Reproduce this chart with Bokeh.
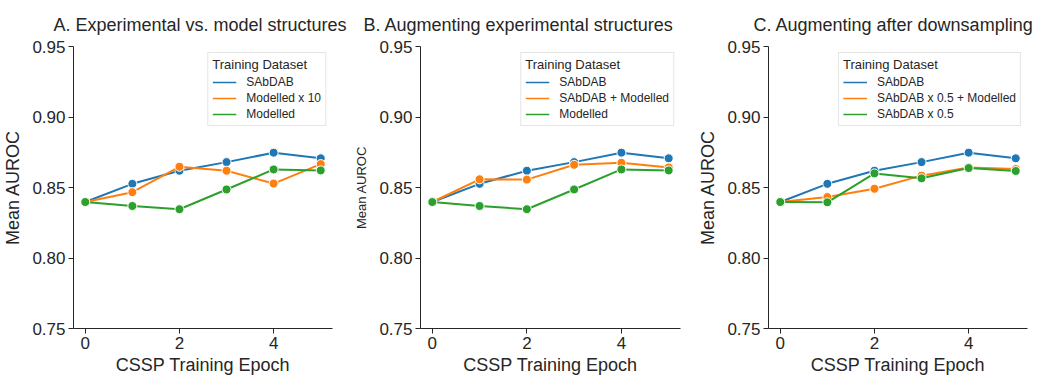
from bokeh.plotting import figure
from bokeh.layouts import row
from bokeh.models import Legend, LegendItem, FixedTicker, NumeralTickFormatter, Range1d
from bokeh.embed import file_html
from bokeh.resources import INLINE

# ---- data ----
epochs = [0, 1, 2, 3, 4, 5]
sabdab = [0.8397, 0.8526, 0.8619, 0.8680, 0.8747, 0.8707]
modelled = [0.8397, 0.8369, 0.8346, 0.8486, 0.8628, 0.8621]
modelled_x10 = [0.8397, 0.8467, 0.8647, 0.8619, 0.8528, 0.8666]
sabdab_plus_modelled = [0.8397, 0.8558, 0.8556, 0.8661, 0.8675, 0.8642]
sabdab_half_plus_modelled = [0.8397, 0.8432, 0.8491, 0.8584, 0.8642, 0.8631]
sabdab_half = [0.8397, 0.8395, 0.8600, 0.8565, 0.8638, 0.8617]

titles = ["A. Experimental vs. model structures",
          "B. Augmenting experimental structures",
          "C. Augmenting after downsampling"]
y_ticks = [0.75, 0.80, 0.85, 0.90, 0.95]
x_ticks = [0, 2, 4]
legend_title = "Training Dataset"
x_label = "CSSP Training Epoch"
y_label = "Mean AUROC"

panel_series = [
    [("SAbDAB", sabdab), ("Modelled x 10", modelled_x10), ("Modelled", modelled)],
    [("SAbDAB", sabdab), ("SAbDAB + Modelled", sabdab_plus_modelled), ("Modelled", modelled)],
    [("SAbDAB", sabdab), ("SAbDAB x 0.5 + Modelled", sabdab_half_plus_modelled), ("SAbDAB x 0.5", sabdab_half)],
]

COLORS = ["#1f77b4", "#ff7f0e", "#2ca02c"]
FONT = "Liberation Sans"
TXT = "#262626"


def make_panel(title, series, width, right_border, ylabel_size, ylabel_standoff, title_offset):
    p = figure(width=width, height=377, output_backend="svg", toolbar_location=None,
               x_range=Range1d(-0.25, 5.25), y_range=Range1d(0.75, 0.95),
               min_border_left=72, min_border_right=right_border,
               min_border_top=45, min_border_bottom=45)
    p.outline_line_color = None
    p.xgrid.visible = False
    p.ygrid.visible = False
    p.background_fill_color = "white"
    p.border_fill_color = "white"

    p.title.text = title
    p.title.text_font = FONT
    p.title.text_font_size = "18px"
    p.title.text_font_style = "normal"
    p.title.text_color = TXT
    p.title.align = "left"
    p.title.standoff = 24
    p.title.offset = title_offset

    for ax in (p.xaxis[0], p.yaxis[0]):
        ax.axis_line_color = TXT
        ax.axis_line_width = 1
        ax.major_tick_line_color = TXT
        ax.major_tick_out = 5
        ax.major_tick_in = 0
        ax.minor_tick_line_color = None
        ax.major_label_text_font = FONT
        ax.major_label_text_font_size = "17px"
        ax.major_label_text_color = TXT
        ax.axis_label_text_font = FONT
        ax.axis_label_text_font_style = "normal"
        ax.axis_label_text_color = TXT
        ax.major_label_standoff = 3

    p.xaxis.ticker = FixedTicker(ticks=x_ticks)
    p.yaxis.ticker = FixedTicker(ticks=y_ticks)
    p.yaxis.formatter = NumeralTickFormatter(format="0.00")
    p.xaxis.axis_label = x_label
    p.xaxis.axis_label_text_font_size = "18px"
    p.xaxis.axis_label_standoff = 3
    p.yaxis.axis_label = y_label
    p.yaxis.axis_label_text_font_size = ylabel_size
    p.yaxis.axis_label_standoff = ylabel_standoff

    items = []
    for (name, vals), c in zip(series, COLORS):
        p.line(epochs, vals, line_color=c, line_width=2)
        p.scatter(epochs, vals, size=9, fill_color=c, line_color="white", line_width=1)
        # legend-only line (lies outside the visible range, thin like the reference legend)
        dummy = p.line([-10, -9], [0.5, 0.5], line_color=c, line_width=1.5)
        items.append(LegendItem(label=name, renderers=[dummy]))

    leg = Legend(items=items, location="top_right")
    leg.title = legend_title
    leg.title_text_font = FONT
    leg.title_text_font_size = "13px"
    leg.title_text_font_style = "normal"
    leg.title_text_color = TXT
    leg.title_standoff = 3
    leg.label_text_font = FONT
    leg.label_text_font_size = "12px"
    leg.label_text_color = TXT
    leg.glyph_width = 24
    leg.glyph_height = 14
    leg.label_height = 14
    leg.label_standoff = 10
    leg.spacing = 2
    leg.padding = 4
    leg.margin = 6
    leg.border_line_color = "#cccccc"
    leg.border_line_width = 1
    leg.background_fill_color = "white"
    leg.background_fill_alpha = 0.8
    p.add_layout(leg)
    return p


pA = make_panel(titles[0], panel_series[0], 348, 16, "18px", 6, -20)
pB = make_panel(titles[1], panel_series[1], 347, 15, "13px", 7, -57)
pC = make_panel(titles[2], panel_series[2], 344, 12, "18px", 6, -15)

layout = row(pA, pB, pC, spacing=0)
open("out.html", "w").write(file_html(layout, INLINE))
